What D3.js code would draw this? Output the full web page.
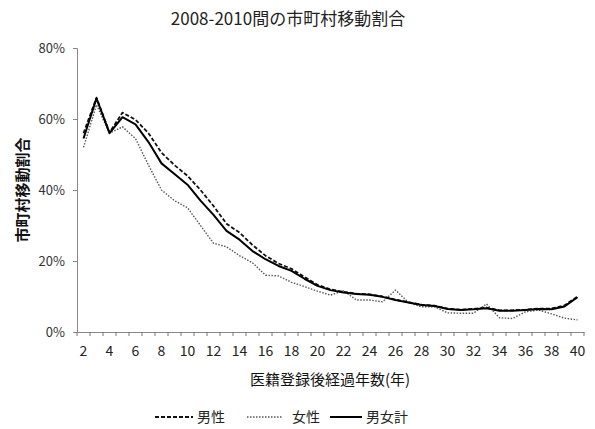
<!DOCTYPE html>
<html><head><meta charset="utf-8">
<script src="https://cdn.jsdelivr.net/npm/d3@7"></script>
<style>body{margin:0;background:#fff}svg{display:block}text{font-family:"Noto Sans CJK JP","Noto Sans",sans-serif}</style>
</head><body><div id="c"></div>
<script>
const years = d3.range(2, 41);
const xTickLabels = d3.range(2, 41, 2);
const yTicks = [0, 0.2, 0.4, 0.6, 0.8];
const male = [56,66,56.2,61.8,59.8,56,50.5,47,44,40,35.5,30.5,28,24.5,21.5,19.3,17.8,15.5,13.3,12,11.3,10.8,10.6,10,9.1,8.4,7.7,7.4,6.6,6.3,6.5,6.9,6.1,6.1,6.3,6.6,6.6,7.5,10];
const female = [52,64,56,57.8,54.5,47,40,37,35,30,25,24,21.5,19.5,16,15.8,14,12.8,11.5,10.4,11.6,9,9,8.5,11.8,8.3,7.1,7.1,5.4,5.3,5.3,7.9,4,3.8,5.7,6.2,5.1,3.9,3.4];
const total = [54.5,65.8,56,60.5,58.5,53.5,47.5,44.5,41.5,37,33,28.5,26,22.8,20.5,18.6,17.2,15,13,11.8,11.1,10.7,10.5,9.9,9,8.3,7.6,7.3,6.5,6.2,6.4,6.7,6,6,6.2,6.5,6.4,7.2,9.8];
const seriesNames = ["男性", "女性", "男女計"];

const W = 595, H = 429;
const svg = d3.select("#c").append("svg").attr("width", W).attr("height", H);
const x = d3.scaleBand().domain(years).range([77, 584]);
const y = d3.scaleLinear().domain([0, 0.8]).range([332, 48]);
const cx = d => x(d) + x.bandwidth() / 2;

svg.append("text").attr("x", 288).attr("y", 25).attr("text-anchor", "middle")
  .attr("font-size", 17).attr("fill", "#222").text("2008-2010間の市町村移動割合");

// y axis
const yAxis = d3.axisLeft(y).tickValues(yTicks).tickFormat(d3.format(".0%")).tickSize(4).tickPadding(8);
const gy = svg.append("g").attr("transform", "translate(77,0)").call(yAxis);
gy.select(".domain").attr("stroke", "#888");
gy.selectAll(".tick line").attr("stroke", "#888");
gy.selectAll(".tick text").attr("font-size", 13).attr("fill", "#333").attr("font-family", "Calibri,Carlito,'Liberation Sans',sans-serif");

// x axis
const xAxis = d3.axisBottom(x).tickValues(xTickLabels).tickSize(0).tickPadding(14);
const gx = svg.append("g").attr("transform", "translate(0,332)").call(xAxis);
gx.select(".domain").attr("stroke", "#888");
gx.selectAll(".tick text").attr("font-size", 14).attr("fill", "#222").attr("font-family", "'Liberation Sans',sans-serif");
gx.selectAll(".bt").data(years.concat([41])).enter().append("line")
  .attr("x1", (d, i) => i < years.length ? x(d) : x(40) + x.bandwidth())
  .attr("x2", (d, i) => i < years.length ? x(d) : x(40) + x.bandwidth())
  .attr("y1", 0).attr("y2", 4).attr("stroke", "#777");

// axis titles
svg.append("text").attr("transform", "translate(28,190) rotate(-90)").attr("text-anchor", "middle")
  .attr("font-size", 15).attr("font-weight", "bold").attr("fill", "#111").text("市町村移動割合");
svg.append("text").attr("x", 330).attr("y", 385).attr("text-anchor", "middle")
  .attr("font-size", 15).attr("fill", "#111").text("医籍登録後経過年数(年)");

const line = d3.line().x((d, i) => cx(years[i])).y(d => y(d / 100));
const styles = [
  {data: male, stroke: "#111", width: 1.8, dash: "4,2"},
  {data: female, stroke: "#555", width: 1.4, dash: "1.5,1.5"},
  {data: total, stroke: "#000", width: 2, dash: null}
];
styles.forEach(s => {
  svg.append("path").datum(s.data).attr("d", line).attr("fill", "none")
    .attr("stroke", s.stroke).attr("stroke-width", s.width)
    .attr("stroke-dasharray", s.dash).attr("stroke-linejoin", "round");
});

// legend
const leg = [
  {x1: 155, x2: 193, tx: 197, i: 0},
  {x1: 247, x2: 282, tx: 292, i: 1},
  {x1: 330, x2: 362, tx: 366, i: 2}
];
leg.forEach(l => {
  const s = styles[l.i];
  svg.append("line").attr("x1", l.x1).attr("x2", l.x2).attr("y1", 417).attr("y2", 417)
    .attr("stroke", s.stroke).attr("stroke-width", s.width).attr("stroke-dasharray", s.dash);
  svg.append("text").attr("x", l.tx).attr("y", 422).attr("font-size", 14).attr("fill", "#222").text(seriesNames[l.i]);
});
</script></body></html>
